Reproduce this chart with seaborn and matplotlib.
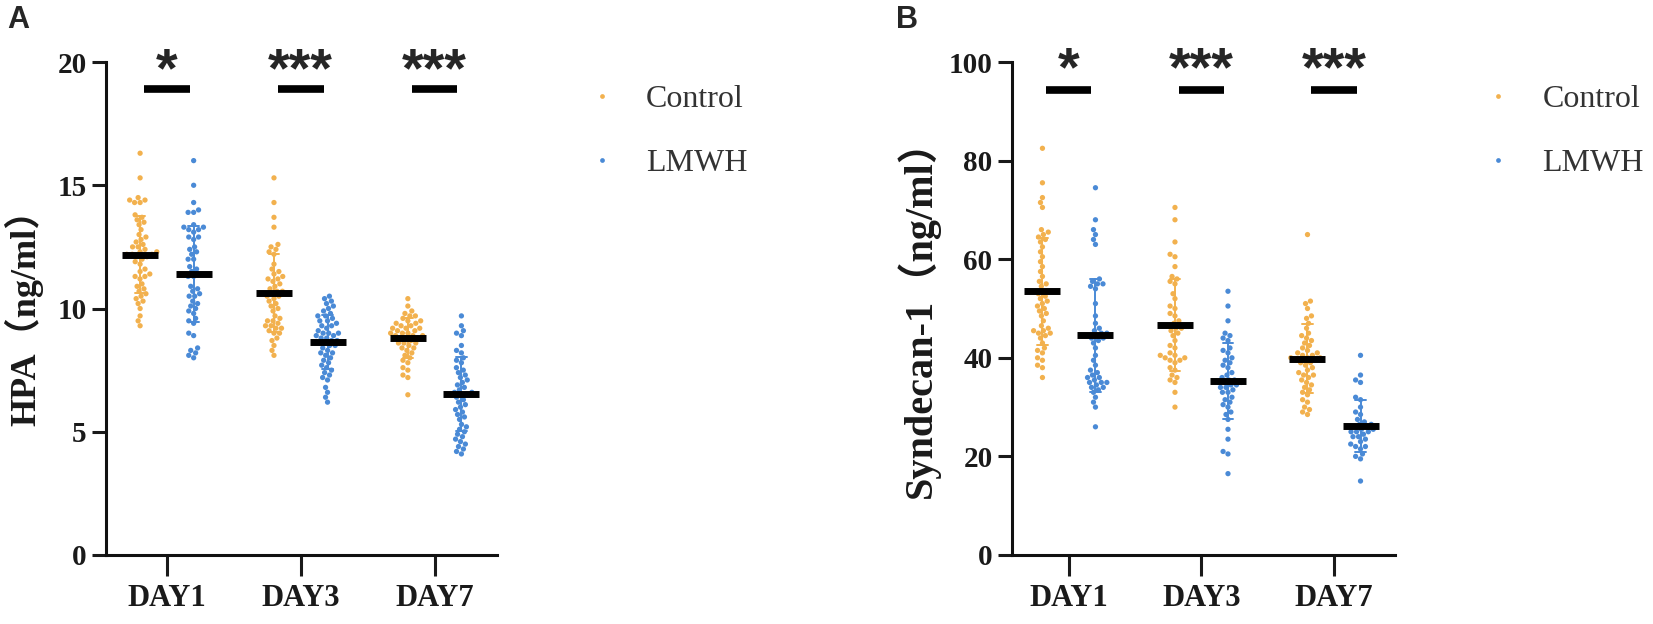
import pandas as pd
import matplotlib.pyplot as plt
import seaborn as sns

days = ['DAY1', 'DAY3', 'DAY7']
groups = ['Control', 'LMWH']
colors = ['#F2B14E', '#4A8AD6']
stars = ['*', '***', '***']

# HPA (ng/ml), panel A
hpa_control_day1 = [16.3, 15.3, 14.5, 14.4, 14.3, 14.3, 14.4, 13.8, 13.7, 13.6, 13.5, 13.4, 13.2,
                    13.0, 12.9, 12.8, 12.7, 12.6, 12.5, 12.5, 12.4, 12.3, 12.3, 12.2, 12.2, 12.2,
                    12.1, 12.1, 12.0, 11.9, 11.8, 11.6, 11.5, 11.4, 11.3, 11.3, 11.2, 11.0, 10.9,
                    10.8, 10.7, 10.6, 10.5, 10.4, 10.3, 10.2, 10.0, 9.7, 9.5, 9.3]
hpa_lmwh_day1 = [16.0, 15.0, 14.3, 14.0, 13.9, 13.9, 13.4, 13.3, 13.3, 13.2, 13.2, 13.1, 12.9,
                 12.9, 12.8, 12.5, 12.4, 12.3, 12.2, 12.0, 12.0, 11.7, 11.6, 11.5, 11.4, 11.3,
                 11.3, 10.9, 10.8, 10.7, 10.6, 10.5, 10.5, 10.3, 10.2, 10.1, 10.0, 9.9, 9.8,
                 9.6, 9.5, 9.4, 9.0, 8.9, 8.4, 8.3, 8.2, 8.1, 8.0]
hpa_control_day3 = [15.3, 14.3, 13.7, 13.3, 12.6, 12.5, 12.4, 12.3, 12.2, 11.8, 11.6, 11.5,
                    11.4, 11.3, 11.2, 11.2, 11.1, 11.0, 10.9, 10.8, 10.7, 10.7, 10.6, 10.5,
                    10.5, 10.4, 10.3, 10.2, 10.1, 10.0, 9.9, 9.7, 9.6, 9.5, 9.5, 9.4, 9.3, 9.3,
                    9.2, 9.2, 9.1, 9.0, 9.0, 8.8, 8.7, 8.5, 8.3, 8.1]
hpa_lmwh_day3 = [10.5, 10.4, 10.3, 10.2, 10.1, 10.0, 9.9, 9.8, 9.7, 9.7, 9.6, 9.5, 9.5, 9.4,
                 9.3, 9.3, 9.2, 9.1, 9.0, 9.0, 9.0, 8.9, 8.9, 8.8, 8.8, 8.7, 8.7, 8.6, 8.6, 8.5,
                 8.5, 8.4, 8.3, 8.2, 8.2, 8.1, 8.0, 7.9, 7.8, 7.7, 7.6, 7.5, 7.4, 7.3, 7.2, 7.1,
                 6.8, 6.6, 6.4, 6.2]
hpa_control_day7 = [10.4, 10.1, 9.9, 9.8, 9.7, 9.7, 9.6, 9.5, 9.5, 9.4, 9.4, 9.3, 9.3, 9.2,
                    9.2, 9.2, 9.1, 9.1, 9.0, 9.0, 9.0, 8.9, 8.9, 8.9, 8.8, 8.8, 8.8, 8.7, 8.6,
                    8.6, 8.6, 8.5, 8.4, 8.4, 8.3, 8.2, 8.1, 8.0, 7.9, 7.8, 7.6, 7.5, 7.3, 7.2, 6.5]
hpa_lmwh_day7 = [9.7, 9.3, 9.1, 9.0, 8.9, 8.5, 8.3, 8.2, 8.0, 7.9, 7.8, 7.6, 7.5, 7.4, 7.3,
                 7.2, 7.1, 7.0, 6.9, 6.8, 6.7, 6.6, 6.6, 6.5, 6.5, 6.4, 6.3, 6.2, 6.1, 6.0, 5.9,
                 5.8, 5.7, 5.6, 5.5, 5.3, 5.2, 5.1, 5.0, 4.9, 4.8, 4.7, 4.6, 4.5, 4.4, 4.3, 4.2, 4.1]

# Syndecan-1 (ng/ml), panel B
syn_control_day1 = [82.5, 75.5, 72.5, 71.5, 70.5, 66.0, 65.5, 65.0, 64.5, 64.0, 63.5, 62.5,
                    61.5, 60.5, 59.5, 58.5, 57.5, 56.5, 55.5, 55.0, 54.5, 53.5, 53.0, 52.5,
                    52.0, 51.5, 51.0, 50.5, 50.0, 49.5, 49.0, 48.5, 47.5, 46.5, 46.0, 45.5,
                    45.5, 45.0, 45.0, 44.5, 44.0, 43.0, 42.0, 41.5, 41.0, 40.0, 39.5, 38.5,
                    38.0, 36.0]
syn_lmwh_day1 = [74.5, 68.0, 66.0, 65.0, 64.0, 63.0, 56.0, 55.5, 55.0, 55.0, 54.5, 54.0, 51.0,
                 48.5, 47.0, 46.0, 45.5, 45.0, 45.0, 44.5, 44.5, 44.0, 44.0, 43.5, 43.0, 42.0,
                 40.5, 39.5, 38.5, 37.5, 37.0, 36.5, 36.0, 36.0, 35.5, 35.0, 35.0, 35.0, 34.5,
                 34.0, 34.0, 33.5, 33.0, 32.0, 31.0, 30.0, 26.0]
syn_control_day3 = [70.5, 68.0, 63.5, 61.0, 60.5, 58.5, 56.5, 56.0, 55.5, 55.0, 53.0, 52.0,
                    50.5, 50.0, 49.0, 48.5, 47.5, 47.0, 46.5, 46.5, 46.0, 46.0, 45.5, 45.0,
                    44.5, 43.5, 42.5, 42.0, 41.0, 40.5, 40.5, 40.0, 40.0, 39.5, 39.5, 39.0,
                    38.0, 37.5, 36.5, 36.0, 35.5, 35.0, 33.0, 30.0]
syn_lmwh_day3 = [53.5, 50.5, 47.5, 45.0, 44.5, 44.0, 43.5, 42.0, 41.5, 41.0, 40.0, 39.5, 39.0,
                 38.5, 38.0, 37.0, 36.5, 36.0, 35.5, 35.5, 35.0, 35.0, 35.0, 34.5, 34.5, 34.0,
                 34.0, 33.5, 33.0, 33.0, 32.0, 31.5, 31.0, 30.5, 30.0, 29.0, 28.5, 27.5, 25.5,
                 23.5, 21.0, 20.5, 16.5]
syn_control_day7 = [65.0, 51.5, 51.0, 50.0, 48.5, 48.0, 47.0, 46.0, 45.0, 44.5, 44.0, 43.5,
                    43.0, 42.5, 42.0, 41.5, 41.0, 41.0, 40.5, 40.5, 40.0, 40.0, 40.0, 39.5,
                    39.5, 39.0, 39.0, 38.5, 38.0, 37.5, 37.0, 36.5, 36.5, 36.0, 35.5, 35.0,
                    34.5, 34.0, 33.5, 33.0, 32.5, 31.5, 31.0, 30.0, 29.5, 29.0, 28.5]
syn_lmwh_day7 = [40.5, 36.5, 35.5, 35.0, 32.0, 31.5, 30.0, 29.0, 28.5, 27.5, 27.0, 26.5, 26.5,
                 26.0, 26.0, 26.0, 25.5, 25.5, 25.0, 25.0, 25.0, 24.5, 24.0, 24.0, 23.5, 23.0,
                 22.5, 22.0, 22.0, 21.5, 20.5, 20.0, 19.5, 15.0]


def long_table(series):
    rows = []
    for (day, group), vals in series.items():
        for v in vals:
            rows.append((day, group, v))
    return pd.DataFrame(rows, columns=['day', 'group', 'value'])


hpa = long_table({
    ('DAY1', 'Control'): hpa_control_day1, ('DAY1', 'LMWH'): hpa_lmwh_day1,
    ('DAY3', 'Control'): hpa_control_day3, ('DAY3', 'LMWH'): hpa_lmwh_day3,
    ('DAY7', 'Control'): hpa_control_day7, ('DAY7', 'LMWH'): hpa_lmwh_day7,
})
syn = long_table({
    ('DAY1', 'Control'): syn_control_day1, ('DAY1', 'LMWH'): syn_lmwh_day1,
    ('DAY3', 'Control'): syn_control_day3, ('DAY3', 'LMWH'): syn_lmwh_day3,
    ('DAY7', 'Control'): syn_control_day7, ('DAY7', 'LMWH'): syn_lmwh_day7,
})

sns.set_style('ticks')
SERIF = ['Liberation Serif', 'Noto Sans CJK SC']
plt.rcParams['font.family'] = SERIF


def draw_panel(ax, df, ymax, ystep, ylabel, label_size, sig_y, star_y, xlim, label_x):
    common = dict(data=df, x='day', y='value', hue='group', order=days, hue_order=groups, ax=ax)
    sns.swarmplot(**common, palette=colors, dodge=True, size=3.8, warn_thresh=1, zorder=1)
    sns.pointplot(**common, palette=colors, dodge=0.4, errorbar='sd', capsize=0.08,
                  linestyle='none', markersize=0, err_kws={'linewidth': 1.4, 'zorder': 3},
                  legend=False)
    sns.pointplot(**common, palette=['black', 'black'], dodge=0.4, errorbar=None,
                  markers='_', markersize=26, markeredgewidth=5, linestyle='none',
                  legend=False, zorder=4)

    ax.set_ylim(0, ymax)
    ax.set_xlim(*xlim)
    ax.set_yticks(range(0, ymax + 1, ystep))
    sns.despine(ax=ax)
    for side in ['left', 'bottom']:
        ax.spines[side].set_linewidth(2.2)
        ax.spines[side].set_color('#111111')
    ax.tick_params(axis='y', width=2.2, length=10, pad=4, colors='#1a1a1a', labelsize=21)
    ax.tick_params(axis='x', width=2.2, length=15, pad=6, colors='#1a1a1a', labelsize=22)
    for lab in ax.get_xticklabels() + ax.get_yticklabels():
        lab.set_fontweight('bold')
        lab.set_family(SERIF)
    ax.set_xlabel('')
    ax.set_ylabel(ylabel, fontsize=label_size, fontweight='bold', family=SERIF, color='#1a1a1a')
    ax.yaxis.set_label_coords(label_x, 0.5)

    for i, s in enumerate(stars):
        ax.plot([i - 0.17, i + 0.17], [sig_y, sig_y], color='black', lw=5.5,
                solid_capstyle='butt', clip_on=False)
        ax.text(i, star_y, s, ha='center', va='center', fontsize=40, fontweight='bold',
                family='Liberation Sans', clip_on=False)

    handles, labels = ax.get_legend_handles_labels()
    ax.legend(handles[:2], labels[:2], loc='upper left', bbox_to_anchor=(1.228, 0.954),
              frameon=False, handlelength=1.0, handletextpad=0.88, labelspacing=1.08,
              borderpad=0, borderaxespad=0, markerscale=0.9,
              prop={'family': SERIF, 'size': 23}, labelcolor='#333333')


fig = plt.figure(figsize=(16.53, 6.24), dpi=100)
ax_a = fig.add_axes([0.0641, 0.1106, 0.2365, 0.79])
ax_b = fig.add_axes([0.6122, 0.1106, 0.2317, 0.79])

draw_panel(ax_a, hpa, 20, 5, 'HPA（ng/ml）', 26, 18.9, 19.6, (-0.455, 2.465), -0.161)
draw_panel(ax_b, syn, 100, 20, 'Syndecan-1（ng/ml）', 29, 94.3, 98.1, (-0.43, 2.46), -0.188)

fig.text(0.011, 0.968, 'A', fontsize=22, fontweight='bold', family='Liberation Sans',
         ha='center', va='center')
fig.text(0.549, 0.968, 'B', fontsize=22, fontweight='bold', family='Liberation Sans',
         ha='center', va='center')

fig.savefig('out.png', dpi=100)
